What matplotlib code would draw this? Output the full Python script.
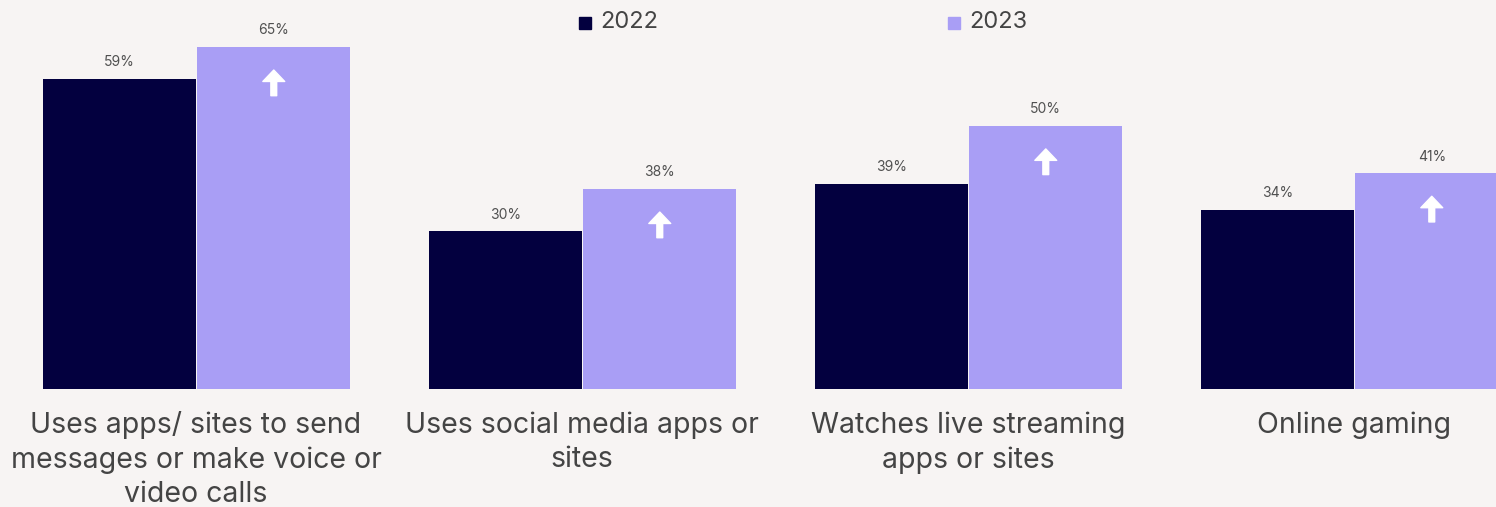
import matplotlib.pyplot as plt
import numpy as np

# data
categories = ['Uses apps/ sites to send\nmessages or make voice or\nvideo calls',
              'Uses social media apps or\nsites',
              'Watches live streaming\napps or sites',
              'Online gaming']
years = ['2022', '2023']
values_2022 = [59, 30, 39, 34]
values_2023 = [65, 38, 50, 41]

bg = '#f7f4f3'
dark = '#03003f'
light = '#a99ef5'
text_col = '#444444'

plt.rcParams['font.family'] = ['Inter', 'DejaVu Sans']

fig = plt.figure(figsize=(14.96, 5.07), dpi=100, facecolor=bg)
ax = fig.add_axes([0, 118 / 507, 1, 389 / 507])
ax.set_facecolor(bg)

x = np.arange(len(categories))
w = 0.397
b1 = ax.bar(x - w / 2, values_2022, w, color=dark, edgecolor='none')
b2 = ax.bar(x + w / 2 + 0.003, values_2023, w, color=light, edgecolor='none')

# percentage labels above bars
for bars, vals in [(b1, values_2022), (b2, values_2023)]:
    for rect, v in zip(bars, vals):
        ax.annotate(f'{v}%', xy=(rect.get_x() + rect.get_width() / 2, v),
                    xytext=(0, 12), textcoords='offset points',
                    ha='center', va='center', fontsize=10, color='#505050')

# white up arrows inside the 2023 bars
for rect, v in zip(b2, values_2023):
    cx = rect.get_x() + rect.get_width() / 2
    ax.annotate('', xy=(cx, v), xytext=(0, -35), textcoords='offset points',
                arrowprops=dict(arrowstyle='simple,head_length=0.55,head_width=1.05,tail_width=0.28',
                                color='white', shrinkA=0, shrinkB=16.5, mutation_scale=15))

ax.set_xlim(-196 / 386, 1300 / 386)
ax.set_ylim(0, 389 / 5.26)
ax.set_xticks(x)
ax.set_xticklabels(categories, fontsize=20.5, color=text_col, linespacing=1.34)
ax.tick_params(axis='x', length=0, pad=16)
ax.set_yticks([])
for s in ax.spines.values():
    s.set_visible(False)

# legend at top
for (sx, tx), year, col in [((579, 600), years[0], dark), ((948, 969), years[1], light)]:
    fig.patches.append(plt.Rectangle((sx / 1496, 1 - 29 / 507), 12 / 1496, 12 / 507,
                                     transform=fig.transFigure, color=col, figure=fig))
    fig.text(tx / 1496, 1 - 22 / 507, year, fontsize=17, color=text_col,
             ha='left', va='center')

fig.savefig('out.png', dpi=100, facecolor=bg)
